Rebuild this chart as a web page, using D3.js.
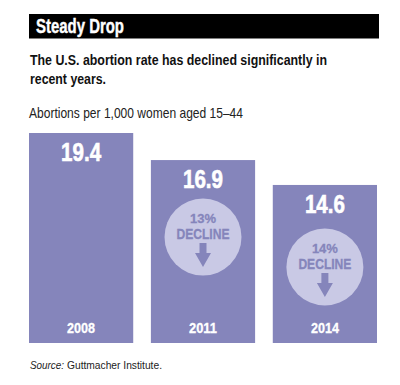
<!DOCTYPE html>
<html>
<head>
<meta charset="utf-8">
<script src="https://cdn.jsdelivr.net/npm/d3@7"></script>
<style>
  html, body { margin: 0; background: #fff; }
  svg { display: block; }
  text { font-family: "Liberation Sans", sans-serif; }
</style>
</head>
<body>
<div id="chart"></div>
<script>
var years = ["2008", "2011", "2014"]
var rates = [19.4, 16.9, 14.6]
var declines = [null, "13%", "14%"]

var barColor = "#8585bb"
var circleColor = "#c9c9e5"

var svg = d3.select("#chart").append("svg")
    .attr("width", 400)
    .attr("height", 385)

var x = d3.scaleBand().domain(years).range([29, 377]).paddingInner(0.145)
var y = d3.scaleLinear().domain([0, 19.4]).range([343, 133])

// no condensed font installed, so squeeze the glyphs to the wanted width
function squeeze(sel, w) {
    sel.attr("textLength", w).attr("lengthAdjust", "spacingAndGlyphs")
}

// thin outline, the original face is heavier than Liberation bold
function heavy(sel, c, w) {
    sel.attr("stroke", c).attr("stroke-width", w)
}

// header
svg.append("rect")
    .attr("x", 29).attr("y", 14).attr("width", 350).attr("height", 24.5)
    .attr("fill", "#000")
svg.append("text")
    .attr("x", 36).attr("y", 33)
    .attr("font-size", 20).attr("font-weight", "bold").attr("fill", "#fff")
    .text("Steady Drop")
    .call(squeeze, 88)
    .call(heavy, "#fff", 0.4)

svg.append("text")
    .attr("x", 30).attr("y", 65)
    .attr("font-size", 14.5).attr("font-weight", "bold").attr("fill", "#111")
    .text("The U.S. abortion rate has declined significantly in")
    .call(squeeze, 297)
svg.append("text")
    .attr("x", 30).attr("y", 84)
    .attr("font-size", 14.5).attr("font-weight", "bold").attr("fill", "#111")
    .text("recent years.")
    .call(squeeze, 76)

svg.append("text")
    .attr("x", 29).attr("y", 118)
    .attr("font-size", 14.5).attr("fill", "#222")
    .text("Abortions per 1,000 women aged 15\u201344")
    .call(squeeze, 214)

var bars = svg.selectAll("g.bar")
    .data(years)
    .enter().append("g")
    .attr("class", "bar")

bars.append("rect")
    .attr("x", function(d) { return x(d) })
    .attr("y", function(d, i) { return y(rates[i]) })
    .attr("width", x.bandwidth())
    .attr("height", function(d, i) { return y(0) - y(rates[i]) })
    .attr("fill", barColor)

bars.append("text")
    .attr("x", function(d) { return x(d) + x.bandwidth() / 2 })
    .attr("y", function(d, i) { return y(rates[i]) + 28 })
    .attr("text-anchor", "middle")
    .attr("font-size", 25).attr("font-weight", "bold").attr("fill", "#fff")
    .text(function(d, i) { return rates[i].toFixed(1) })
    .call(squeeze, 40)
    .call(heavy, "#fff", 0.6)

bars.append("text")
    .attr("x", function(d) { return x(d) + x.bandwidth() / 2 })
    .attr("y", y(0) - 10)
    .attr("text-anchor", "middle")
    .attr("font-size", 15).attr("font-weight", "bold").attr("fill", "#fff")
    .text(function(d) { return d })
    .call(squeeze, 28)
    .call(heavy, "#fff", 0.3)

// decline badges, only on the later two bars
var badge = bars.filter(function(d, i) { return declines[i] != null })
    .append("g")
    .attr("transform", function(d) {
        var i = years.indexOf(d)
        var below = i == 1 ? 77 : 82 // the circles don't sit the same distance under the bar top
        return "translate(" + (x(d) + x.bandwidth() / 2) + "," + (y(rates[i]) + below) + ")"
    })

badge.append("circle")
    .attr("r", 38.5)
    .attr("fill", circleColor)

badge.append("text")
    .attr("y", -14)
    .attr("text-anchor", "middle")
    .attr("font-size", 13.5).attr("font-weight", "bold").attr("fill", barColor)
    .text(function(d) { return declines[years.indexOf(d)] })
    .call(squeeze, 26)
    .call(heavy, barColor, 0.3)

badge.append("text")
    .attr("y", 2)
    .attr("text-anchor", "middle")
    .attr("font-size", 14.5).attr("font-weight", "bold").attr("fill", barColor)
    .text("DECLINE")
    .call(squeeze, 53)
    .call(heavy, barColor, 0.3)

badge.append("path")
    .attr("d", "M-3.5,6H3.5V16H8L0,30L-8,16H-3.5Z")
    .attr("fill", barColor)

// source
svg.append("text")
    .attr("x", 30).attr("y", 369)
    .attr("font-size", 11.5).attr("font-style", "italic").attr("fill", "#222")
    .text("Source:")
    .call(squeeze, 34)
svg.append("text")
    .attr("x", 67).attr("y", 369)
    .attr("font-size", 11.5).attr("fill", "#222")
    .text("Guttmacher Institute.")
    .call(squeeze, 95)
</script>
</body>
</html>
